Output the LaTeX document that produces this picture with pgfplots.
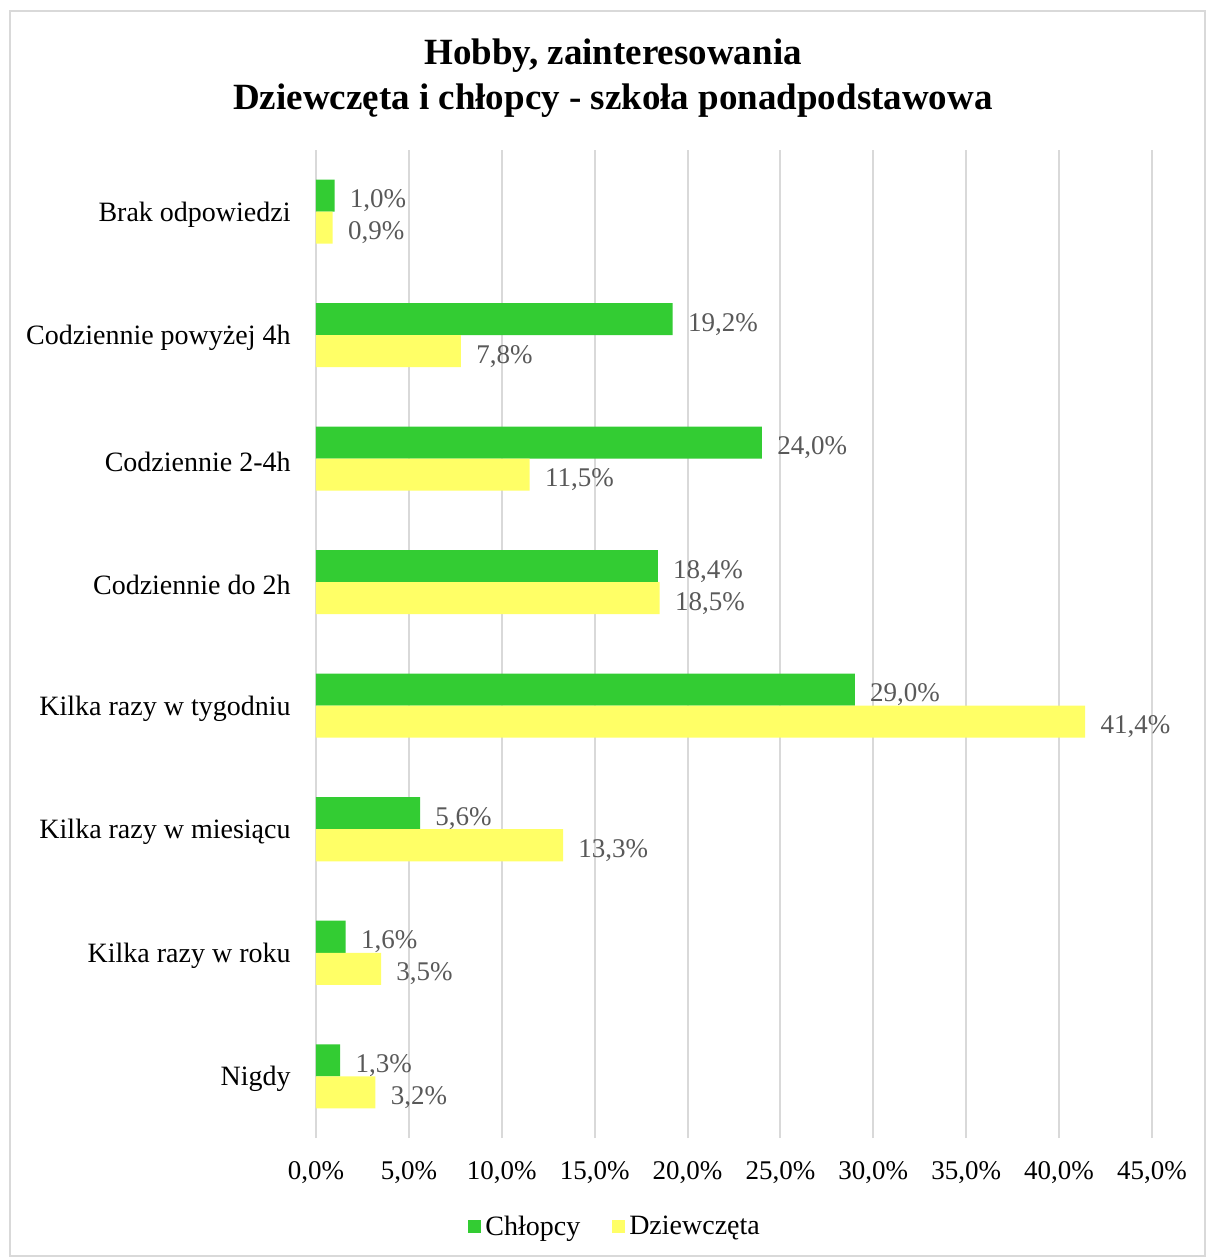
\documentclass[border=0pt]{standalone}
\usepackage{fontspec}
\setmainfont{Liberation Serif}
\usepackage{pgfplots}
\pgfplotsset{compat=1.18}

\definecolor{chlopcy}{HTML}{33CC33}
\definecolor{dziewczeta}{HTML}{FFFF66}
\definecolor{gridgray}{HTML}{D9D9D9}
\definecolor{labelgray}{HTML}{595959}

% Nigdy at 0 ... Brak odpowiedzi at 7
\pgfplotstableread{
pos chl dz
0 1.3 3.2
1 1.6 3.5
2 5.6 13.3
3 29.0 41.4
4 18.4 18.5
5 24.0 11.5
6 19.2 7.8
7 1.0 0.9
}\hobby

\pgfkeys{/pgf/number format/.cd, fixed, fixed zerofill, precision=1, use comma, assume math mode=true}

\begin{document}
\begin{tikzpicture}
\path[use as bounding box] (-158pt,-59.5pt) rectangle (445pt,569pt);
\fill[white] (-158pt,-59.5pt) rectangle (445pt,569pt);
\draw[gridgray, line width=0.6pt] (-153pt,-59pt) rectangle (444.5pt,563.5pt);

\begin{axis}[
    at={(0,0)}, anchor=south west,
    scale only axis,
    width=418pt, height=494pt,
    xbar, bar width=16pt,
    xmin=0, xmax=45, ymin=-0.5, ymax=7.5,
    xtick={0,5,...,45},
    ytick={0,...,7},
    yticklabels={Nigdy, Kilka razy w roku, Kilka razy w miesiącu, Kilka razy w tygodniu,
                 Codziennie do 2h, Codziennie 2-4h, Codziennie powyżej 4h, Brak odpowiedzi},
    xticklabel={\pgfmathprintnumber{\tick}\%},
    xticklabel style={font=\fontsize{13.5}{16}\selectfont, inner sep=0pt, yshift=-11.5pt},
    yticklabel style={font=\fontsize{14}{16}\selectfont, inner sep=0pt, xshift=-12.5pt, yshift=-1.5pt, anchor=east},
    major tick length=0pt,
    axis line style={draw=none},
    xmajorgrids, grid style={gridgray, line width=1pt},
    clip=false,
    nodes near coords={\pgfmathprintnumber{\pgfplotspointmeta}\%},
    every node near coord/.append style={font=\fontsize{13.5}{16}\selectfont, text=labelgray, inner sep=0pt, anchor=west, xshift=7.5pt, yshift=-2.5pt},
    legend columns=2,
    legend style={at={(0.359,-0.09)}, anchor=center, draw=none, fill=none,
                  font=\fontsize{14}{16}\selectfont,
                  /tikz/every even column/.append style={column sep=14pt}},
    legend image code/.code={\fill[#1] (0pt,-3.25pt) rectangle (6.5pt,3.25pt);},
]
\addplot[fill=chlopcy, draw=none, bar shift=8pt] table[x=chl, y=pos] {\hobby};
\addplot[fill=dziewczeta, draw=none, bar shift=-8pt] table[x=dz, y=pos] {\hobby};
\legend{Chłopcy, Dziewczęta}
\end{axis}

\node[align=center, font=\bfseries\fontsize{18.5}{22.5}\selectfont] at (148.5pt,529.75pt)
  {Hobby, zainteresowania\\Dziewczęta i chłopcy - szkoła ponadpodstawowa};
\end{tikzpicture}
\end{document}
